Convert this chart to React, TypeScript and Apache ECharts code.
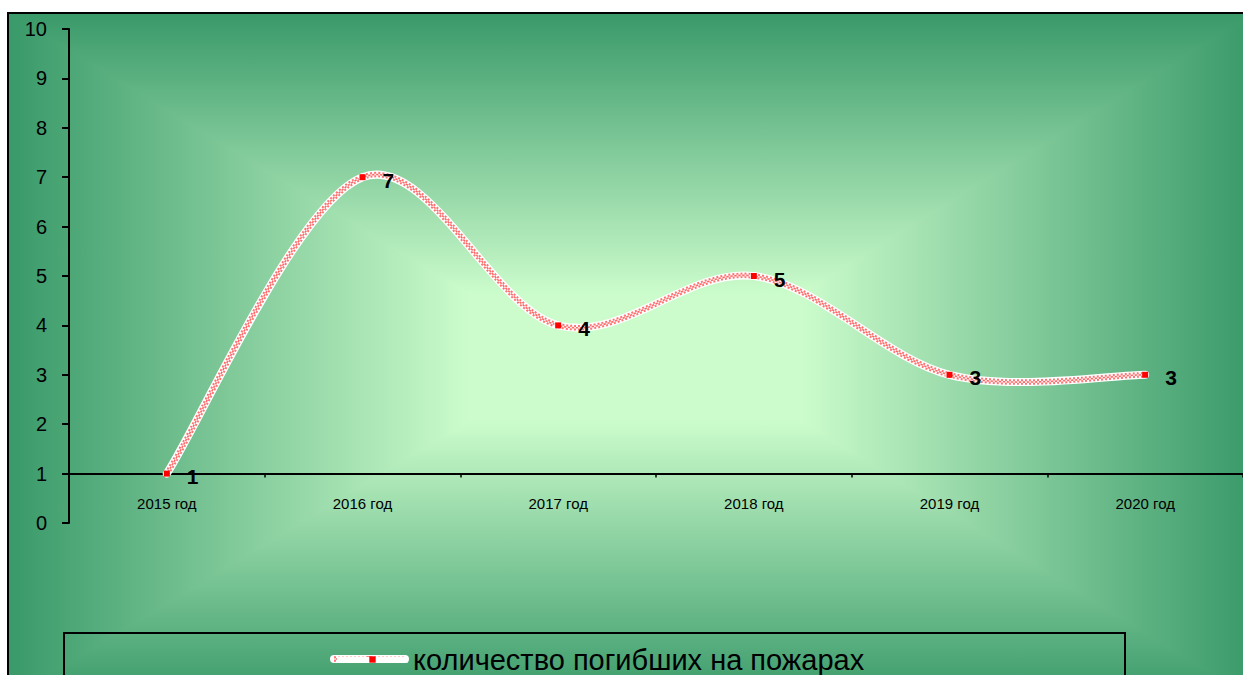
import React, { useEffect, useRef } from "react";
import * as echarts from "echarts";

const categories = ["2015 год", "2016 год", "2017 год", "2018 год", "2019 год", "2020 год"];
const deaths = [1, 7, 4, 5, 3, 3];
const seriesName = "количество погибших на пожарах";
const yMin = 0;
const yMax = 10;
const yStep = 1;
const crossValue = 1;

export default function App() {
  const ref = useRef<HTMLDivElement>(null);

  useEffect(() => {
    const chart = echarts.init(ref.current as HTMLDivElement, null, { renderer: "svg" });
    const DARK = "#399969";
    const LIGHT = "#CCFCCC";
    const L = 8, T = 13, R = 1254, B = 700;
    const IL = 470, IR = 800, IT = 295, IB = 420;
    const E = 6;
    const lg = (x0: number, y0: number, x1: number, y1: number) =>
      new echarts.graphic.LinearGradient(x0, y0, x1, y1, [
        { offset: 0, color: DARK },
        { offset: 1, color: LIGHT },
      ]);
    const poly = (pts: number[][], g: () => any) => ({
      type: "polygon",
      z: -20,
      silent: true,
      shape: { points: pts },
      style: { fill: g() },
    });

    const gridLeft = 69;
    const gridTop = 29;
    const gridHeight = 494;
    const gridWidth = 1183;
    const FONT = "'Liberation Sans', Arial, sans-serif";
    const n = deaths.length;

    const patternLayers = (shape: any, kind: string) => [
      { type: kind, shape, style: { fill: "none", stroke: "#ffffff", lineWidth: 8, lineCap: "round" } },
      {
        type: kind,
        shape,
        style: { fill: "none", stroke: "rgba(255,0,0,0.55)", lineWidth: 5.5, lineDash: [2, 2], lineCap: "butt" },
      },
      {
        type: kind,
        shape,
        style: { fill: "none", stroke: "rgba(255,255,255,0.85)", lineWidth: 1.6, lineDash: [2, 2], lineCap: "butt" },
      },
      {
        type: kind,
        shape,
        style: {
          fill: "none",
          stroke: "rgba(255,0,0,0.6)",
          lineWidth: 1.6,
          lineDash: [2, 2],
          lineDashOffset: 2,
          lineCap: "butt",
        },
      },
    ];

    const renderCurve = (params: any, api: any) => {
      const i = params.dataIndex;
      if (i >= n - 1) return { type: "group", children: [] };
      const p = (j: number) => {
        const k = Math.max(0, Math.min(n - 1, j));
        return api.coord([k, deaths[k]]);
      };
      const p0 = p(i - 1), p1 = p(i), p2 = p(i + 1), p3 = p(i + 2);
      const shape = {
        x1: p1[0],
        y1: p1[1],
        cpx1: p1[0] + (p2[0] - p0[0]) / 6,
        cpy1: p1[1] + (p2[1] - p0[1]) / 6,
        cpx2: p2[0] - (p3[0] - p1[0]) / 6,
        cpy2: p2[1] - (p3[1] - p1[1]) / 6,
        x2: p2[0],
        y2: p2[1],
      };
      return { type: "group", children: patternLayers(shape, "bezierCurve") };
    };

    const legendIconY = 659;
    const legendIconX1 = 334;
    const legendIconX2 = 405;

    chart.setOption({
      animation: false,
      textStyle: { fontFamily: FONT },
      graphic: [
        {
          type: "rect",
          z: -21,
          silent: true,
          shape: { x: L, y: T, width: R - L, height: B - T },
          style: { fill: "#7CC492" },
        },
        poly([[L, T], [R, T], [R, T + E], [IR + E, IT], [IL - E, IT], [L, T + E]], () => lg(0, 0, 0, 1)),
        poly([[L, B], [R, B], [R, B - E], [IR + E, IB], [IL - E, IB], [L, B - E]], () => lg(0, 1, 0, 0)),
        poly([[L, T], [IL, IT], [IL, IB], [L, B]], () => lg(0, 0, 1, 0)),
        poly([[R, T], [IR, IT], [IR, IB], [R, B]], () => lg(1, 0, 0, 0)),
        {
          type: "rect",
          z: -20,
          silent: true,
          shape: { x: IL - 0.5, y: IT - 0.5, width: IR - IL + 1, height: IB - IT + 1 },
          style: { fill: LIGHT },
        },
        {
          type: "rect",
          z: -5,
          silent: true,
          shape: { x: L, y: T, width: R - L, height: B - T },
          style: { fill: "none", stroke: "#000", lineWidth: 2 },
        },
        {
          type: "rect",
          z: -5,
          silent: true,
          shape: { x: 64, y: 633, width: 1061, height: 100 },
          style: { fill: "none", stroke: "#000", lineWidth: 2 },
        },
        {
          type: "group",
          z: 20,
          silent: true,
          children: patternLayers(
            { x1: legendIconX1, y1: legendIconY, x2: legendIconX2, y2: legendIconY },
            "line"
          ).concat([
            {
              type: "rect",
              shape: { x: (legendIconX1 + legendIconX2) / 2 - 3, y: legendIconY - 3, width: 6, height: 6 },
              style: { fill: "#ff0000" },
            } as any,
          ]),
        },
      ],
      grid: { left: gridLeft, top: gridTop, width: gridWidth, height: gridHeight, containLabel: false },
      legend: {
        data: [seriesName],
        left: legendIconX1,
        top: 645,
        padding: 0,
        itemWidth: legendIconX2 - legendIconX1,
        itemHeight: 8,
        textStyle: { fontSize: 29, color: "#000", fontFamily: FONT },
        lineStyle: { opacity: 1, color: "#ffffff", width: 6 },
        selectedMode: false,
      },
      xAxis: {
        type: "category",
        data: categories,
        boundaryGap: true,
        offset: -gridHeight * (crossValue - yMin) / (yMax - yMin),
        axisLine: { lineStyle: { color: "#000", width: 2 } },
        axisTick: { show: true, length: 4, inside: false, lineStyle: { color: "#000", width: 1.5 } },
        axisLabel: { color: "#000", fontSize: 15, margin: 22, fontFamily: FONT },
        splitLine: { show: false },
      },
      yAxis: {
        type: "value",
        min: yMin,
        max: yMax,
        interval: yStep,
        axisLine: { show: true, lineStyle: { color: "#000", width: 2 } },
        axisTick: { show: true, length: 7, inside: false, lineStyle: { color: "#000", width: 2 } },
        axisLabel: { color: "#000", fontSize: 20, margin: 22, fontFamily: FONT },
        splitLine: { show: false },
      },
      series: [
        {
          name: "_curve",
          type: "custom",
          coordinateSystem: "cartesian2d",
          data: deaths.map((v, i) => [i, v]),
          renderItem: renderCurve,
          z: 2,
          silent: true,
          clip: false,
        },
        {
          name: seriesName,
          type: "line",
          data: deaths,
          z: 3,
          symbol: "rect",
          symbolSize: 6,
          itemStyle: { color: "#ff0000" },
          lineStyle: { color: "#ffffff", width: 6, opacity: 0 },
          emphasis: { disabled: true },
          label: {
            show: true,
            position: "right",
            distance: 17,
            offset: [0, 3],
            color: "#000",
            fontSize: 21,
            fontWeight: "bold",
            fontFamily: FONT,
          },
        },
      ],
    });

    return () => chart.dispose();
  }, []);

  return (
    <div
      ref={ref}
      style={{ position: "fixed", left: 0, top: 0, width: 1243, height: 675, background: "#fff" }}
    />
  );
}
